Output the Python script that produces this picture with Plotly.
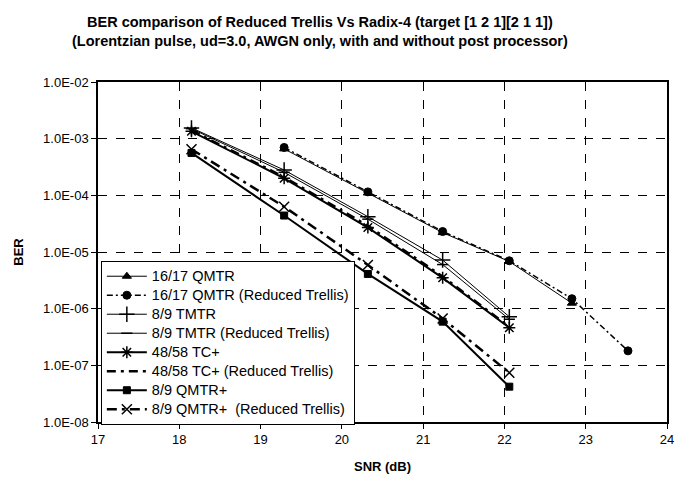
import plotly.graph_objects as go

# ---- data ----
snr_qmtr = [19.29, 20.32, 21.24, 22.06, 22.83]
ber_qmtr = [6.6e-4, 1.1e-4, 2.2e-5, 6.8e-6, 1.25e-6]

snr_qmtr_rt = [19.29, 20.32, 21.24, 22.06, 22.83, 23.52]
ber_qmtr_rt = [7.0e-4, 1.15e-4, 2.3e-5, 7.0e-6, 1.5e-6, 1.8e-7]

snr_std = [18.15, 19.29, 20.32, 21.24, 22.06]
ber_tmtr = [1.55e-3, 2.8e-4, 4.2e-5, 7.2e-6, 7.2e-7]
ber_tmtr_rt = [1.5e-3, 2.55e-4, 3.8e-5, 6.0e-6, 6.5e-7]
ber_tc = [1.35e-3, 2.0e-4, 2.7e-5, 3.5e-6, 4.6e-7]
ber_tc_rt = [1.4e-3, 2.1e-4, 2.9e-5, 3.7e-6, 4.8e-7]
ber_qmtrp = [5.6e-4, 4.4e-5, 4.1e-6, 5.9e-7, 4.2e-8]
ber_qmtrp_rt = [6.5e-4, 6.3e-5, 5.9e-6, 6.7e-7, 7.4e-8]

series_names = ["16/17 QMTR", "16/17 QMTR (Reduced Trellis)", "8/9 TMTR",
                "8/9 TMTR (Reduced Trellis)", "48/58 TC+", "48/58 TC+ (Reduced Trellis)",
                "8/9 QMTR+", "8/9 QMTR+  (Reduced Trellis)"]

y_tick_vals = [1e-8, 1e-7, 1e-6, 1e-5, 1e-4, 1e-3, 1e-2]
y_tick_text = ["1.0E-08", "1.0E-07", "1.0E-06", "1.0E-05", "1.0E-04", "1.0E-03", "1.0E-02"]
x_tick_vals = [17, 18, 19, 20, 21, 22, 23, 24]

title_lines = ["BER comparison of Reduced Trellis Vs Radix-4 (target [1 2 1][2 1 1])",
               "(Lorentzian pulse, ud=3.0, AWGN only, with and without post processor)"]

BLACK = "#000000"
fig = go.Figure()

def add(x, y, name, width, dash, symbol, msize, mline=1):
    fig.add_trace(go.Scatter(
        x=x, y=y, mode="lines+markers",
        name='<span style="font-size:14.5px">' + name + '</span>',
        line=dict(color=BLACK, width=width, dash=dash),
        marker=dict(symbol=symbol, size=msize, color=BLACK,
                    line=dict(color=BLACK, width=mline)),
    ))

add(snr_qmtr, ber_qmtr, series_names[0], 1, "solid", "triangle-up", 8)
add(snr_qmtr_rt, ber_qmtr_rt, series_names[1], 1.5, "6px,3px,2px,3px", "circle", 8)
add(snr_std, ber_tmtr, series_names[2], 1, "solid", "cross-thin", 11, 1.5)
add(snr_std, ber_tmtr_rt, series_names[3], 1, "solid", "line-ew", 8, 1.5)
add(snr_std, ber_tc, series_names[4], 2, "solid", "asterisk", 10, 1.5)
add(snr_std, ber_tc_rt, series_names[5], 2.5, "9px,5px,3px,5px", "line-ew", 1, 0)
add(snr_std, ber_qmtrp, series_names[6], 2, "solid", "square", 7)
add(snr_std, ber_qmtrp_rt, series_names[7], 2.5, "10px,5px,3px,5px", "x-thin", 10, 1.5)

fig.update_layout(
    width=676, height=481,
    margin=dict(l=98, r=9, t=82, b=59),
    paper_bgcolor="white", plot_bgcolor="white",
    font=dict(family="Liberation Sans, Arial, sans-serif", color=BLACK, size=13),
    showlegend=True,
    legend=dict(
        x=0.005, y=-0.008, xanchor="left", yanchor="bottom",
        bgcolor="white", bordercolor=BLACK, borderwidth=1,
        font=dict(size=11.8, color=BLACK), tracegroupgap=0,
        itemwidth=40,
    ),
    annotations=[dict(
        text="<b>" + title_lines[0] + "</b><br><b>" + title_lines[1] + "</b>",
        xref="paper", yref="paper", x=0.39, y=1.15,
        xanchor="center", yanchor="middle", showarrow=False,
        font=dict(size=14.5, color=BLACK),
    )],
    xaxis=dict(
        range=[17, 24], tickvals=x_tick_vals, automargin=False,
        showgrid=True, gridcolor=BLACK, griddash="dash", gridwidth=1,
        showline=True, linecolor=BLACK, linewidth=1.5, mirror=True,
        ticks="outside", ticklen=5, tickcolor=BLACK, zeroline=False,
        title=dict(text="<b>SNR (dB)</b>", font=dict(size=13), standoff=16),
    ),
    yaxis=dict(
        type="log", range=[-8, -2], tickvals=y_tick_vals, ticktext=y_tick_text,
        automargin=False,
        showgrid=True, gridcolor=BLACK, griddash="dash", gridwidth=1,
        showline=True, linecolor=BLACK, linewidth=1.5, mirror=True,
        ticks="outside", ticklen=5, tickcolor=BLACK, zeroline=False,
        title=dict(text="<b>BER</b>", font=dict(size=13), standoff=17),
    ),
)

fig.write_html("out.html", config={"displayModeBar": False},
               post_script="document.body.style.margin='0px';")
